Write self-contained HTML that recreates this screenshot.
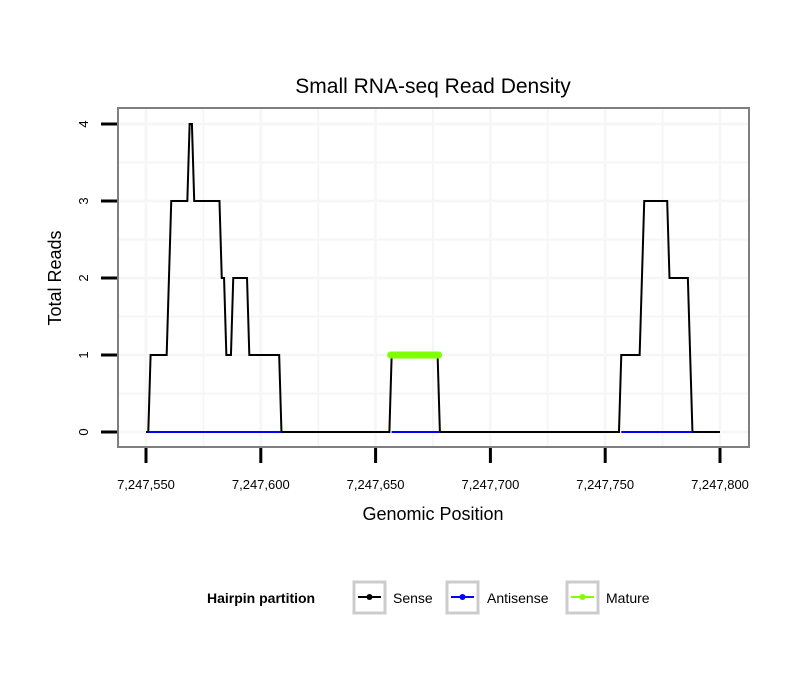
<!DOCTYPE html>
<html><head><meta charset="utf-8"><style>
body{margin:0;background:#fff;}
svg text{font-family:"Liberation Sans",sans-serif;}
</style></head><body>
<svg id="chart" width="810" height="690" xmlns="http://www.w3.org/2000/svg">
<rect width="810" height="690" fill="#fff"/>
<g id="grid"></g>
<g id="series"></g>
<rect x="118" y="108" width="631" height="339" fill="none" stroke="#7f7f7f" stroke-width="2"/>
<g id="axes"></g>
<text x="433" y="93" font-size="21" text-anchor="middle">Small RNA-seq Read Density</text>
<text x="433" y="520" font-size="18" text-anchor="middle">Genomic Position</text>
<text transform="translate(61,278) rotate(-90)" font-size="18" text-anchor="middle">Total Reads</text>
<g>
<text x="207" y="603" font-size="14" font-weight="bold">Hairpin partition</text>
<g>
<rect x="354" y="582" width="31" height="31" fill="#fff" stroke="#ccc" stroke-width="3"/>
<line x1="358" y1="597" x2="381" y2="597" stroke="#000" stroke-width="2"/><circle cx="369.5" cy="597" r="3" fill="#000"/>
<text x="393" y="603" font-size="14">Sense</text></g>
<g>
<rect x="447" y="582" width="31" height="31" fill="#fff" stroke="#ccc" stroke-width="3"/>
<line x1="451" y1="597" x2="474" y2="597" stroke="#0000ff" stroke-width="2"/><circle cx="462.5" cy="597" r="3" fill="#0000ff"/>
<text x="487" y="603" font-size="14">Antisense</text></g>
<g>
<rect x="567" y="582" width="31" height="31" fill="#fff" stroke="#ccc" stroke-width="3"/>
<line x1="571" y1="597" x2="594" y2="597" stroke="#7fff00" stroke-width="2"/><circle cx="582.5" cy="597" r="3" fill="#7fff00"/>
<text x="606" y="603" font-size="14">Mature</text></g>
</g>
</svg>
<script>
const xTicks=[7247550,7247600,7247650,7247700,7247750,7247800];
const xTickLabels=["7,247,550","7,247,600","7,247,650","7,247,700","7,247,750","7,247,800"];
const yTicks=[0,1,2,3,4];
const sensePos=[7247550,7247551,7247552,7247559,7247561,7247568,7247569,7247570,7247571,7247582,7247583,7247584,7247585,7247587,7247588,7247594,7247595,7247608,7247609,7247656,7247657,7247677,7247678,7247756,7247757,7247765,7247767,7247777,7247778,7247786,7247788,7247800];
const senseVal=[0,0,1,1,3,3,4,4,3,3,2,2,1,1,2,2,1,1,0,0,1,1,0,0,1,1,3,3,2,2,0,0];
const antisenseStart=[7247551,7247657,7247757];
const antisenseEnd=[7247609,7247678,7247788];
const antisenseVal=[0,0,0];
const matureStart=[7247657];
const matureEnd=[7247677];
const matureVal=[1];

const NS="http://www.w3.org/2000/svg";
const x=v=>146+(v-7247550)*574/250;
const y=v=>432-v*77;
function mk(tag,attrs,parent){const e=document.createElementNS(NS,tag);for(const k in attrs)e.setAttribute(k,attrs[k]);parent.appendChild(e);return e;}
const grid=document.getElementById('grid'),series=document.getElementById('series'),axes=document.getElementById('axes');
for(let v=7247525;v<=7247825;v+=25){const px=x(v);if(px<119||px>748)continue;
 const l=mk('line',{x1:px,x2:px,y1:109,y2:446,stroke:'#f6f6f6','stroke-width':(v%50===0)?2.5:2},grid);
 
 }
for(let v=-0.5;v<=4.5;v+=0.5){const py=y(v);if(py<109||py>446)continue;
 const l=mk('line',{x1:119,x2:748,y1:py,y2:py,stroke:'#f6f6f6','stroke-width':(v%1===0)?2.5:2},grid);
 
 }
xTicks.forEach((v,i)=>{
 const t=mk('line',{x1:x(v),x2:x(v),y1:448,y2:463,stroke:'#000','stroke-width':3},axes);
 
 
 const tx=mk('text',{x:x(v),y:489,'font-size':13,'text-anchor':'middle'},axes);tx.textContent=xTickLabels[i];
 
 
});
yTicks.forEach(v=>{
 const t=mk('line',{x1:101,x2:117,y1:y(v),y2:y(v),stroke:'#000','stroke-width':3},axes);
 
 
 const tx=mk('text',{transform:`translate(88,${y(v)}) rotate(-90)`,'font-size':13,'text-anchor':'middle'},axes);tx.textContent=String(v);
 
 
});
const sp=mk('polyline',{points:sensePos.map((p,i)=>x(p)+','+y(senseVal[i])).join(' '),fill:'none',stroke:'#000','stroke-width':2,'stroke-linejoin':'miter'},series);


antisenseStart.forEach((s,i)=>{
 const l=mk('line',{x1:x(s),x2:x(antisenseEnd[i]),y1:y(antisenseVal[i]),y2:y(antisenseVal[i]),stroke:'#0000ff','stroke-width':2},series);
 
 
});
matureStart.forEach((s,i)=>{
 const l=mk('line',{x1:x(s)-1,x2:x(matureEnd[i])+1,y1:y(matureVal[i]),y2:y(matureVal[i]),stroke:'#7fff00','stroke-width':7,'stroke-linecap':'round'},series);
 
 
});
</script>
</body></html>
